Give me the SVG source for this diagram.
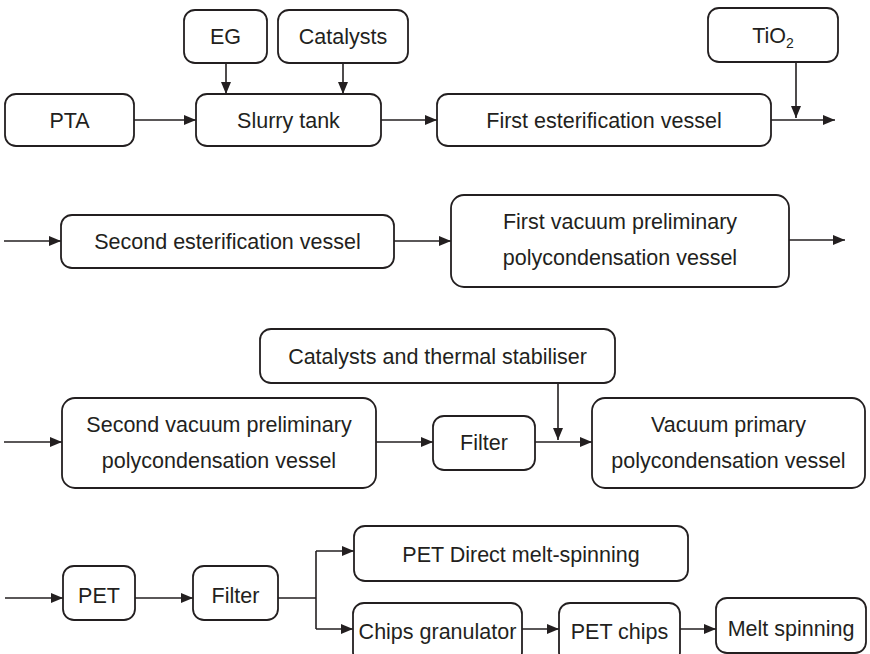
<svg xmlns="http://www.w3.org/2000/svg" width="870" height="654" viewBox="0 0 870 654">
<defs>
<style>
.box{fill:#fff;stroke:#231f20;stroke-width:1.8}
.t{font-family:"Liberation Sans",Arial,sans-serif;font-size:21.5px;fill:#231f20;text-anchor:middle}
.c{fill:none;stroke:#231f20;stroke-width:1.6}
</style>
<marker id="ah" viewBox="0 0 12 10" refX="12" refY="5" markerWidth="12" markerHeight="10" markerUnits="userSpaceOnUse" orient="auto">
<path d="M0,0 L12,5 L0,10 z" fill="#231f20"/>
</marker>
</defs>
<rect width="870" height="654" fill="#fff"/>

<g id="connectors">
<path class="c" d="M134,120 H196" marker-end="url(#ah)"/>
<path class="c" d="M226,63 V94" marker-end="url(#ah)"/>
<path class="c" d="M343,63 V94" marker-end="url(#ah)"/>
<path class="c" d="M381,120 H437" marker-end="url(#ah)"/>
<path class="c" d="M796,62 V118" marker-end="url(#ah)"/>
<path class="c" d="M771,120 H835" marker-end="url(#ah)"/>

<path class="c" d="M4,241 H61" marker-end="url(#ah)"/>
<path class="c" d="M394,241 H451" marker-end="url(#ah)"/>
<path class="c" d="M789,240 H845" marker-end="url(#ah)"/>

<path class="c" d="M4,442 H62" marker-end="url(#ah)"/>
<path class="c" d="M376,442 H433" marker-end="url(#ah)"/>
<path class="c" d="M558,383 V440" marker-end="url(#ah)"/>
<path class="c" d="M535,442 H592" marker-end="url(#ah)"/>

<path class="c" d="M5,598 H63" marker-end="url(#ah)"/>
<path class="c" d="M135,598 H193" marker-end="url(#ah)"/>
<path class="c" d="M278,598 H316"/>
<path class="c" d="M316,551 V629"/>
<path class="c" d="M316,551 H354" marker-end="url(#ah)"/>
<path class="c" d="M316,629 H353" marker-end="url(#ah)"/>
<path class="c" d="M522,629 H559" marker-end="url(#ah)"/>
<path class="c" d="M680,629 H716" marker-end="url(#ah)"/>
</g>

<g id="eg"><rect class="box" x="184" y="10" width="83" height="53" rx="11"/><text class="t" x="225.5" y="44">EG</text></g>
<g id="catalysts"><rect class="box" x="278" y="10" width="130" height="53" rx="11"/><text class="t" x="343" y="44">Catalysts</text></g>
<g id="pta"><rect class="box" x="5" y="94" width="129" height="52" rx="11"/><text class="t" x="69.5" y="128">PTA</text></g>
<g id="slurry"><rect class="box" x="196" y="94" width="185" height="52" rx="11"/><text class="t" x="288.5" y="128">Slurry tank</text></g>
<g id="first-ester"><rect class="box" x="437" y="94" width="334" height="52" rx="11"/><text class="t" x="604" y="128">First esterification vessel</text></g>
<g id="tio2"><rect class="box" x="708" y="8" width="130" height="54" rx="11"/><text class="t" x="773" y="43">TiO<tspan font-size="14" dy="5">2</tspan></text></g>

<g id="second-ester"><rect class="box" x="61" y="215" width="333" height="53" rx="11"/><text class="t" x="227.5" y="249">Second esterification vessel</text></g>
<g id="first-vac"><rect class="box" x="451" y="195" width="338" height="92" rx="13"/><text class="t" x="620" y="229">First vacuum preliminary</text><text class="t" x="620" y="265">polycondensation vessel</text></g>

<g id="cat-thermal"><rect class="box" x="260" y="329" width="355" height="54" rx="11"/><text class="t" x="437.5" y="364">Catalysts and thermal stabiliser</text></g>
<g id="second-vac"><rect class="box" x="62" y="398" width="314" height="90" rx="13"/><text class="t" x="219" y="432">Second vacuum preliminary</text><text class="t" x="219" y="468">polycondensation vessel</text></g>
<g id="filter1"><rect class="box" x="433" y="416" width="102" height="54" rx="11"/><text class="t" x="484" y="450">Filter</text></g>
<g id="vac-primary"><rect class="box" x="592" y="398" width="273" height="90" rx="13"/><text class="t" x="728.5" y="432">Vacuum primary</text><text class="t" x="728.5" y="468">polycondensation vessel</text></g>

<g id="pet"><rect class="box" x="63" y="566" width="72" height="54" rx="11"/><text class="t" x="99" y="603">PET</text></g>
<g id="filter2"><rect class="box" x="193" y="566" width="85" height="54" rx="11"/><text class="t" x="235.5" y="603">Filter</text></g>
<g id="direct-melt"><rect class="box" x="354" y="526" width="334" height="55" rx="11"/><text class="t" x="521" y="562">PET Direct melt-spinning</text></g>
<g id="granulator"><rect class="box" x="353" y="603" width="169" height="60" rx="11"/><text class="t" x="437.5" y="639">Chips granulator</text></g>
<g id="pet-chips"><rect class="box" x="559" y="603" width="121" height="60" rx="11"/><text class="t" x="619.5" y="639">PET chips</text></g>
<g id="melt-spinning"><rect class="box" x="716" y="598" width="150" height="55" rx="11"/><text class="t" x="791" y="636">Melt spinning</text></g>
</svg>
